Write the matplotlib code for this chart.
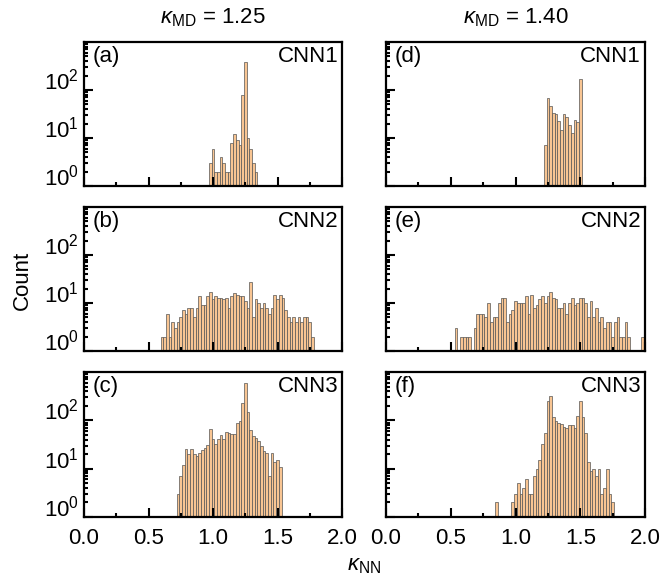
import numpy as np
import matplotlib
matplotlib.use("Agg")
from matplotlib import pyplot as plt
from matplotlib import transforms

plt.rcParams['font.family'] = ['Liberation Sans', 'DejaVu Sans']
plt.rcParams['mathtext.fontset'] = 'custom'
plt.rcParams['mathtext.rm'] = 'Liberation Sans'
plt.rcParams['mathtext.it'] = 'Liberation Sans:italic'
plt.rcParams['mathtext.bf'] = 'Liberation Sans:bold'

# histogram bins: width 2/96, bin centres at k*BIN
BIN = 2.0 / 96

# (first bin index, counts) for each panel
a_start = 47
a_counts = [3, 6, 2, 2, 4, 3, 2, 2, 8, 12, 9, 7, 78, 377, 10, 6, 3, 2]

b_start = 29
b_counts = [2, 2, 6, 2, 4, 3, 4, 5, 7, 6, 8, 8, 5, 8, 14, 9, 9, 14, 17, 12,
            14, 13, 13, 12, 13, 8, 14, 16, 15, 14, 14, 11, 8, 27, 5, 12, 10, 8, 10, 8,
            6, 8, 15, 12, 15, 13, 7, 5, 4, 5, 4, 5, 4, 5, 5, 4, 2]

c_start = 35
c_counts = [3, 7, 12, 25, 20, 25, 20, 18, 21, 24, 27, 31, 65, 41, 32, 41, 50, 41, 58, 55,
            53, 53, 86, 97, 233, 600, 152, 63, 48, 44, 38, 30, 23, 21, 7, 21, 14, 15, 11]

d_start = 59
d_counts = [7, 69, 47, 33, 32, 23, 15, 31, 27, 19, 13, 24, 22, 170]

e_start = 26
e_counts = [3, 0, 2, 2, 2, 2, 0,
            3, 6, 6, 6, 5, 10, 4, 5, 5, 10,
            13, 13, 4, 6, 7, 11, 10, 10, 10, 14,
            6, 15, 8, 9, 12, 14, 10, 14, 17, 13,
            12, 8, 8, 10, 6, 10, 13, 9, 10, 13,
            13, 10, 5, 11, 5, 8, 4, 5, 3, 4,
            4, 2, 4, 5, 2, 2, 4, 2, 0, 0,
            0, 0, 2]

f_start = 41
f_counts = [2, 0, 0, 0, 0, 0,
            2, 3, 5, 3, 4, 6, 3, 3, 7, 10, 15, 32, 56, 250, 320, 118, 98, 90, 84, 73,
            68, 81, 81, 68, 124, 250, 115, 54, 14, 9, 10, 7, 10, 3, 4, 10, 3, 2]

panel_tags = ['(a)', '(b)', '(c)', '(d)', '(e)', '(f)']
model_names = ['CNN1', 'CNN2', 'CNN3', 'CNN1', 'CNN2', 'CNN3']
kappa_md = ['1.25', '1.40']
x_ticks = [0.0, 0.5, 1.0, 1.5, 2.0]

data = [(a_start, a_counts), (b_start, b_counts), (c_start, c_counts),
        (d_start, d_counts), (e_start, e_counts), (f_start, f_counts)]

fig = plt.figure(figsize=(6.64, 5.79), dpi=100)

col_left = [84 / 664, 386 / 664]
col_w = [258 / 664, 259 / 664]
row_bottom = [1 - 186 / 579, 1 - 351 / 579, 1 - 517 / 579]
row_h = [144 / 579, 144 / 579, 145 / 579]

label_shift = transforms.ScaledTranslation(0, 8 / 72, fig.dpi_scale_trans)

for i, (start, counts) in enumerate(data):
    col, row = divmod(i, 3)
    ax = fig.add_axes([col_left[col], row_bottom[row], col_w[col], row_h[row]])

    counts = np.array(counts, dtype=float)
    centers = (start + np.arange(len(counts))) * BIN
    keep = counts > 0
    ax.bar(centers[keep], counts[keep], width=BIN, bottom=0,
           color='#F8C593', edgecolor='#555555', linewidth=0.5)

    ax.set_yscale('log')
    ax.set_ylim(1, 1000)
    ax.set_xlim(0, 2.0)
    ax.set_yticks([1, 10, 100])
    ax.set_xticks(x_ticks)
    ax.set_xticks([0.25, 0.75, 1.25, 1.75], minor=True)

    ax.tick_params(which='both', direction='in', top=False, right=False, width=1.5,
                   labelsize=16)
    ax.tick_params(which='major', length=6.5)
    ax.tick_params(which='minor', length=3.2)
    ax.tick_params(axis='x', which='major', pad=8)
    for sp in ax.spines.values():
        sp.set_linewidth(1.6)

    if row < 2:
        ax.set_xticklabels([])
    else:
        ax.set_xticklabels([f'{t:.1f}' for t in x_ticks])
    if col == 1:
        ax.set_yticklabels([])
    else:
        for lab in ax.get_yticklabels():
            lab.set_transform(lab.get_transform() + label_shift)

    ax.text(0.035, 0.9, panel_tags[i], transform=ax.transAxes, fontsize=16,
            ha='left', va='center')
    ax.text(0.985, 0.9, model_names[i], transform=ax.transAxes, fontsize=16,
            ha='right', va='center')

for col in range(2):
    fig.text(col_left[col] + col_w[col] / 2, 1 - 18 / 579,
             r'$\kappa_\mathrm{MD}$ = ' + kappa_md[col], fontsize=16,
             ha='center', va='center')

fig.text(22 / 664, 1 - 280 / 579, 'Count', rotation=90, fontsize=16,
         ha='center', va='center')
fig.text(364 / 664, 1 - 566 / 579, r'$\kappa_\mathrm{NN}$', fontsize=16,
         ha='center', va='center')

plt.savefig('out.png', dpi=100)
plt.close(fig)
